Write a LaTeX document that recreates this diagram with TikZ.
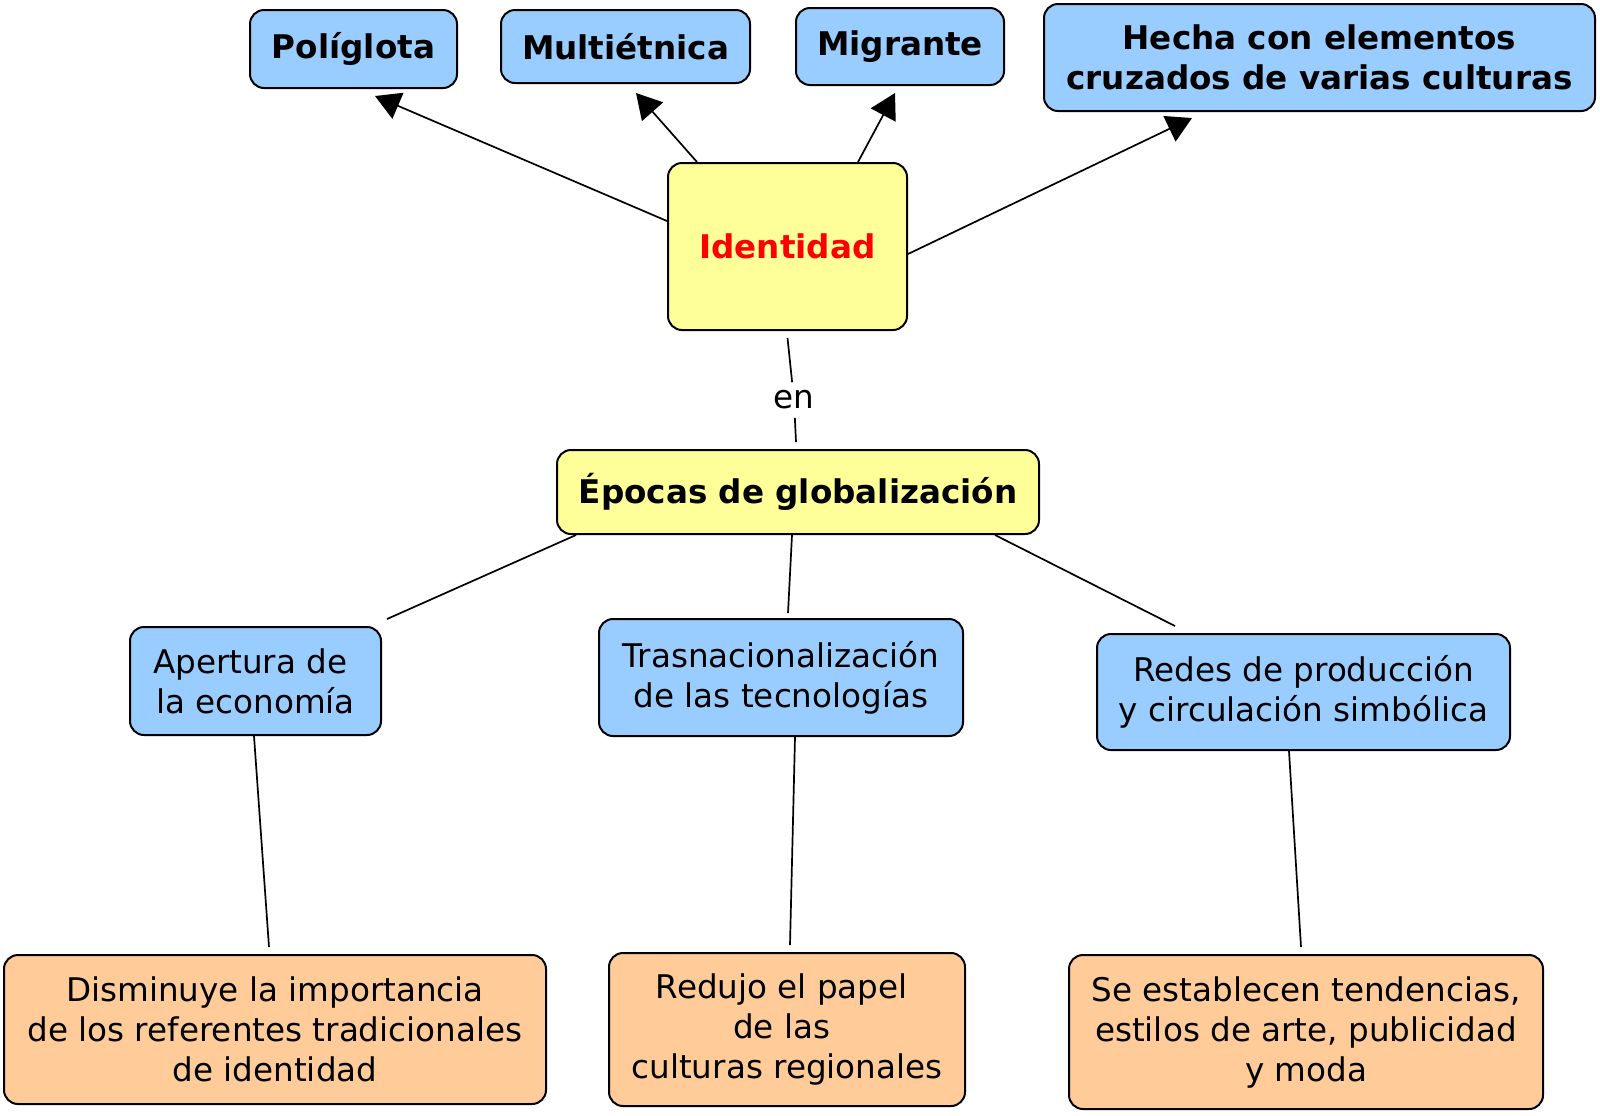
\documentclass[tikz,border=0pt]{standalone}
\usepackage{fontspec}
\setmainfont{DejaVu Sans}
\usepackage{tikz}
\usetikzlibrary{arrows.meta, positioning, calc}
\definecolor{conceptblue}{HTML}{99CCFF}
\definecolor{conceptyellow}{HTML}{FFFF99}
\definecolor{conceptorange}{HTML}{FFCC99}
\definecolor{identred}{HTML}{FF0000}
\newcommand{\trailsp}{\makebox[0.32em]{}}

\begin{document}
\begin{tikzpicture}[x=0.5pt, y=-0.5pt, concept/.style={draw=black, line
      width=1pt, rounded corners=7pt, inner sep=0pt, align=center,
      font=\fontsize{16.3pt}{20pt}\selectfont}, blueconcept/.style={concept,
      fill=conceptblue}, yellowconcept/.style={concept, fill=conceptyellow},
      orangeconcept/.style={concept, fill=conceptorange},
      boldtext/.style={font=\fontsize{16.3pt}{20pt}\selectfont\bfseries},
      linkline/.style={line width=0.85pt, black},
      linkarrow/.style={linkline, -{Triangle[length=12.5pt, width=14pt]}},
      linkphrase/.style={inner sep=4pt, font=\fontsize{16.3pt}{20pt}\selectfont} ]
    \useasboundingbox (0,0) rectangle (1600,1115);

    % Top concepts
    \node[blueconcept, boldtext, minimum width=103.5pt, minimum height=39pt]
    (poli) at (353.5,49) {Políglota}; \node[blueconcept, boldtext, minimum
    width=124.5pt, minimum height=36.5pt] (multi) at (625.5,46.5)
    {Multiétnica}; \node[blueconcept, boldtext, minimum width=104pt, minimum
    height=38.5pt] (migr) at (900,46.5) {Migrante}; \node[blueconcept,
    boldtext, minimum width=275.5pt, minimum height=53.5pt] (hecha) at
    (1319.5,57.5) {Hecha con elementos\\cruzados de varias culturas};

    % Central concepts
    \node[yellowconcept, boldtext, text=identred, minimum width=119.5pt,
    minimum height=83.5pt] (iden) at (787.5,246.5) {Identidad};
    \node[yellowconcept, boldtext, minimum width=241pt, minimum height=42pt]
    (epoc) at (798,492) {Épocas de globalización};

    % Middle row
    \node[blueconcept, minimum width=125.5pt, minimum height=54pt] (aper) at
    (255.5,681) {Apertura de\trailsp\\la economía}; \node[blueconcept, minimum
    width=182pt, minimum height=58.5pt] (tras) at (781,677.5)
    {Trasnacionalización\\de las tecnologías}; \node[blueconcept, minimum
    width=206.5pt, minimum height=58pt] (redes) at (1303.5,692) {Redes de
    producción\\y circulación simbólica};

    % Bottom row
    \node[orangeconcept, minimum width=271pt, minimum height=74.5pt] (dism) at
    (275,1029.5) {Disminuye la importancia\\de los referentes
    tradicionales\\de identidad}; \node[orangeconcept, minimum width=178pt,
    minimum height=76.5pt] (redu) at (787,1029.5) {Redujo el
    papel\trailsp\\de las\trailsp\\culturas regionales};
    \node[orangeconcept, minimum width=237pt, minimum height=77pt] (seest) at
    (1306,1032) {Se establecen tendencias,\\estilos de arte,
    publicidad\\y moda};

    % Arrows from Identidad
    \draw[linkarrow] ($(iden.west)+(0,-25.5)$) -- ($(poli.south)+(21.5,7)$);
    \draw[linkarrow] ($(iden.north)+(-90.5,0)$) -- ($(multi.south)+(10.5,9)$);
    \draw[linkarrow] ($(iden.north)+(70.5,0)$) -- ($(migr.south)+(-5,7)$);
    \draw[linkarrow] ($(iden.east)+(0,7.5)$) -- ($(hecha.south)+(-127.5,6)$);

    % Linking phrase
    \node[linkphrase] (en) at (794,400) {en};
    \draw[linkline] ($(iden.south)+(0,7)$) -- (en);
    \draw[linkline] (en) -- ($(epoc.north)+(-2,-7)$);

    % Lines below Epocas
    \draw[linkline] ($(epoc.south west)+(20,0)$) -- ($(aper.north east)+(5,-7)$);
    \draw[linkline] ($(epoc.south)+(-6,0)$) -- ($(tras.north)+(7,-5)$);
    \draw[linkline] ($(epoc.south east)+(-45,0)$) -- ($(redes.north west)+(79,-7)$);
    \draw[linkline] ($(aper.south)+(-1.5,0)$) -- ($(dism.north)+(-6,-7)$);
    \draw[linkline] ($(tras.south)+(14,0)$) -- ($(redu.north)+(3,-7)$);
    \draw[linkline] ($(redes.south)+(-14.5,0)$) -- ($(seest.north)+(-5,-7)$);

    \end{tikzpicture}
\end{document}
